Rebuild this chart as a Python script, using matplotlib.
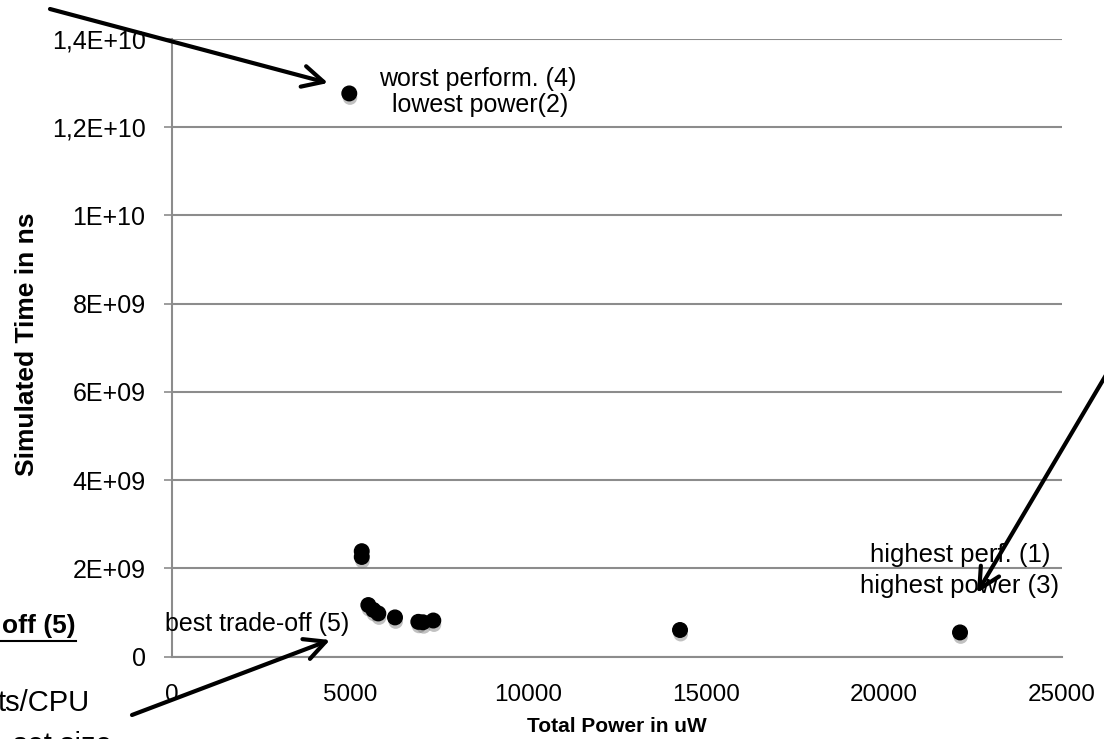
import matplotlib
matplotlib.use("Agg")
import matplotlib.pyplot as plt
import matplotlib.patheffects as pe
from matplotlib.patches import FancyArrowPatch

# ---- data ----
power_uw = [4980, 5330, 5330, 5515, 5655, 5796, 6264, 6919, 7050, 7340, 14270, 22135]
sim_time_ns = [1.276e10, 2.39e9, 2.26e9, 1.17e9, 1.06e9, 0.98e9, 0.89e9, 0.79e9, 0.78e9, 0.82e9, 6.05e8, 5.5e8]
y_ticks = [0, 2e9, 4e9, 6e9, 8e9, 1e10, 1.2e10, 1.4e10]
y_tick_labels = ["0", "2E+09", "4E+09", "6E+09", "8E+09", "1E+10", "1,2E+10", "1,4E+10"]
x_ticks = [0, 5000, 10000, 15000, 20000, 25000]
x_tick_labels = ["0", "5000", "10000", "15000", "20000", "25000"]

W, H = 1104, 739
plt.rcParams['font.family'] = ['Liberation Sans', 'DejaVu Sans']
fig = plt.figure(figsize=(W / 100, H / 100), dpi=100)

def fx(x):
    return x / W

def fy(y):
    return 1 - y / H

left, right, top, bottom = 172, 1062, 38.7, 656.7
ax = fig.add_axes([fx(left), fy(bottom), fx(right) - fx(left), fy(top) - fy(bottom)])

grid_c = "#8c8c8c"
ax.set_xlim(0, 25000)
ax.set_ylim(0, 1.4e10)
ax.set_yticks(y_ticks)
ax.set_yticklabels(y_tick_labels)
ax.set_xticks(x_ticks)
ax.set_xticklabels(x_tick_labels)
ax.tick_params(axis='y', length=6, color=grid_c, width=1.2, labelsize=18, pad=13)
ax.tick_params(axis='x', length=0, labelsize=17.5, pad=20)
for s in ['top', 'right']:
    ax.spines[s].set_visible(False)
for s in ['left', 'bottom']:
    ax.spines[s].set_color(grid_c)
    ax.spines[s].set_linewidth(1.5)
ax.yaxis.grid(True, color=grid_c, linewidth=1.5)
ax.set_axisbelow(True)

ax.scatter(power_uw, sim_time_ns, s=110, color='black', zorder=3, clip_on=False,
           path_effects=[pe.SimplePatchShadow(offset=(0.5, -3), shadow_rgbFace='#777777', alpha=0.45),
                         pe.Normal()])

ax.set_xlabel("Total Power in uW", fontsize=15, fontweight='bold')
ax.set_ylabel("Simulated Time in ns", fontsize=19, fontweight='bold')
ax.xaxis.set_label_coords(0.5, -0.098)
ax.yaxis.set_label_coords(-0.149, 0.505)

# annotations (figure pixel positions)
def ftext(x, y, s, **kw):
    fig.text(fx(x), fy(y), s, **kw)

ftext(478, 79, "worst perform. (4)", fontsize=18, ha='center', va='center')
ftext(480, 105, "lowest power(2)", fontsize=18, ha='center', va='center')
ftext(960, 555, "highest perf. (1)", fontsize=18.5, ha='center', va='center')
ftext(960, 586, "highest power (3)", fontsize=18.5, ha='center', va='center')
ftext(257, 624, "best trade-off (5)", fontsize=18, ha='center', va='center')

ftext(76, 626, "off (5)", fontsize=19, fontweight='bold', ha='right', va='center')
fig.add_artist(plt.Line2D([fx(0), fx(76)], [fy(641), fy(641)], color='black', linewidth=1.5))
ftext(90, 703, "ts/CPU", fontsize=21, ha='right', va='center')
ftext(112, 731, "set size", fontsize=21, ha='right', va='top')

def farrow(x0, y0, x1, y1):
    a = FancyArrowPatch((fx(x0), fy(y0)), (fx(x1), fy(y1)), transform=fig.transFigure,
                        arrowstyle='->,head_length=0.75,head_width=0.38', mutation_scale=20,
                        linewidth=3, color='black', shrinkA=0, shrinkB=0, zorder=10)
    fig.add_artist(a)

farrow(50, 9, 328, 83)
farrow(1106, 375, 977, 593)
farrow(132, 715, 330, 640)

fig.savefig("out.png", dpi=100)
